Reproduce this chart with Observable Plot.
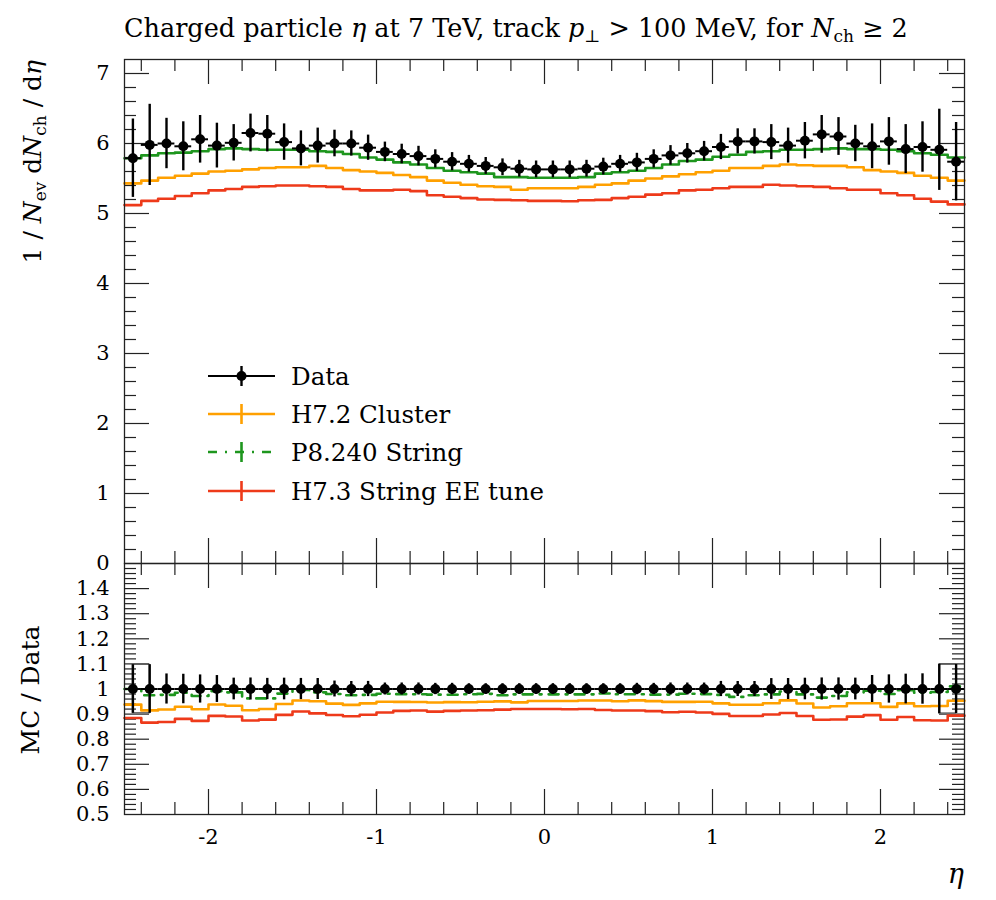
<!DOCTYPE html>
<html><head><meta charset="utf-8">
<script src="https://cdn.jsdelivr.net/npm/d3@7"></script>
<script src="https://cdn.jsdelivr.net/npm/@observablehq/plot@0.6"></script>
<style>
body{margin:0;background:#fff;}
#wrap{position:relative;width:996px;height:900px;}
#wrap svg{position:absolute;left:0;}
</style></head><body><div id="wrap"></div>
<script>
// ---- data ----
const binEdges = [-2.5,-2.4,-2.3,-2.2,-2.1,-2.0,-1.9,-1.8,-1.7,-1.6,-1.5,-1.4,-1.3,-1.2,-1.1,-1.0,-0.9,-0.8,-0.7,-0.6,-0.5,-0.4,-0.3,-0.2,-0.1,0.0,0.1,0.2,0.3,0.4,0.5,0.6,0.7,0.8,0.9,1.0,1.1,1.2,1.3,1.4,1.5,1.6,1.7,1.8,1.9,2.0,2.1,2.2,2.3,2.4,2.5];
const dataVals = [5.79,5.98,6.00,5.96,6.06,5.97,6.01,6.15,6.14,6.02,5.93,5.97,6.00,6.00,5.94,5.88,5.85,5.82,5.78,5.74,5.71,5.68,5.66,5.64,5.63,5.63,5.63,5.64,5.67,5.71,5.73,5.78,5.83,5.86,5.89,5.95,6.03,6.03,6.02,5.97,6.04,6.13,6.10,6.00,5.96,6.03,5.92,5.95,5.91,5.74];
const dataErrs = [0.56,0.58,0.36,0.35,0.34,0.32,0.26,0.27,0.26,0.26,0.25,0.25,0.19,0.18,0.18,0.14,0.14,0.14,0.13,0.13,0.12,0.12,0.12,0.12,0.12,0.12,0.12,0.12,0.12,0.12,0.13,0.13,0.14,0.14,0.14,0.18,0.18,0.18,0.25,0.25,0.26,0.27,0.27,0.26,0.32,0.34,0.35,0.36,0.58,0.56];
const h72Cluster = [5.43,5.47,5.51,5.54,5.57,5.60,5.61,5.63,5.65,5.66,5.66,5.68,5.65,5.62,5.60,5.58,5.55,5.52,5.47,5.44,5.41,5.39,5.38,5.34,5.36,5.36,5.36,5.38,5.41,5.43,5.47,5.50,5.53,5.56,5.59,5.61,5.65,5.65,5.68,5.70,5.69,5.68,5.68,5.66,5.62,5.60,5.58,5.54,5.51,5.47];
const p8String = [5.79,5.83,5.86,5.87,5.89,5.92,5.93,5.92,5.91,5.91,5.91,5.89,5.88,5.85,5.80,5.77,5.73,5.70,5.65,5.61,5.59,5.57,5.52,5.52,5.51,5.51,5.51,5.52,5.57,5.59,5.61,5.65,5.70,5.75,5.77,5.81,5.84,5.88,5.89,5.91,5.91,5.92,5.93,5.92,5.92,5.91,5.89,5.86,5.84,5.80];
const h73StringEE = [5.12,5.18,5.21,5.25,5.29,5.33,5.35,5.38,5.39,5.40,5.40,5.39,5.38,5.35,5.33,5.33,5.34,5.32,5.26,5.24,5.22,5.20,5.195,5.19,5.18,5.18,5.175,5.19,5.195,5.22,5.24,5.27,5.29,5.33,5.34,5.36,5.38,5.38,5.41,5.40,5.39,5.38,5.36,5.34,5.34,5.29,5.26,5.21,5.17,5.13];
const xMajorTicks = [-2,-1,0,1,2];
const xMinorTicks = [-2.4,-2.2,-1.8,-1.6,-1.4,-1.2,-0.8,-0.6,-0.4,-0.2,0.2,0.4,0.6,0.8,1.2,1.4,1.6,1.8,2.2,2.4];
const yMainTicks = [0,1,2,3,4,5,6,7];
const yRatioTicks = [0.5,0.6,0.7,0.8,0.9,1.0,1.1,1.2,1.3,1.4];
const seriesNames = ["Data","H7.2 Cluster","P8.240 String","H7.3 String EE tune"];
const seriesColors = ["#000000","#FFA000","#1E961E","#EE3A1A"];

// ---- derived tables ----
const bins = dataVals.map((v,i)=>({lo:binEdges[i],hi:binEdges[i+1],c:(binEdges[i]+binEdges[i+1])/2,v,e:dataErrs[i]}));
const step = (arr, norm) => arr.flatMap((v,i)=>{const y = norm ? v/dataVals[i] : v; return [{x:binEdges[i],y},{x:binEdges[i+1],y}];});
const yMainMinor = d3.range(1,36).filter(k=>k%5!==0).map(k=>k*0.2);
const yRatioMinor = d3.range(26,75).filter(k=>k%5!==0).map(k=>k*0.02);

const FONT = '"DejaVu Serif","Liberation Serif",serif';
const W = 996, ML = 124, MR = 32, FW = W-ML-MR;

function frameTicks(yMaj, yMin, FH){
  const s = {stroke:"#222", strokeWidth:1.2};
  const M = 25, m = 12;
  return [
    Plot.tickX(xMajorTicks,{x:d=>d,...s,insetBottom:FH-M}),
    Plot.tickX(xMajorTicks,{x:d=>d,...s,insetTop:FH-M}),
    Plot.tickX(xMinorTicks,{x:d=>d,...s,insetBottom:FH-m}),
    Plot.tickX(xMinorTicks,{x:d=>d,...s,insetTop:FH-m}),
    Plot.tickY(yMaj,{y:d=>d,...s,insetRight:FW-M}),
    Plot.tickY(yMaj,{y:d=>d,...s,insetLeft:FW-M}),
    Plot.tickY(yMin,{y:d=>d,...s,insetRight:FW-m}),
    Plot.tickY(yMin,{y:d=>d,...s,insetLeft:FW-m}),
  ];
}

// ---- main panel ----
const topFH = 504;
const topPlot = Plot.plot({
  width: W, height: 59+topFH+11,
  marginTop: 59, marginBottom: 11, marginLeft: ML, marginRight: MR,
  style: {background:"transparent", fontFamily: FONT, overflow:"visible"},
  x: {domain:[-2.5,2.5], axis:null},
  y: {domain:[0,7.2]},
  marks: [
    ...frameTicks(yMainTicks.filter(d=>d>0), yMainMinor, topFH),
    Plot.axisY(yMainTicks,{tickSize:0, tickPadding:15, fontSize:21, label:null, tickFormat:d=>String(d)}),
    Plot.line(step(h72Cluster),{x:"x",y:"y",stroke:seriesColors[1],strokeWidth:2.6}),
    Plot.line(step(h73StringEE),{x:"x",y:"y",stroke:seriesColors[3],strokeWidth:2.6}),
    Plot.line(step(p8String),{x:"x",y:"y",stroke:seriesColors[2],strokeWidth:2.6}),
    Plot.ruleY(bins,{y:"v",x1:"lo",x2:"hi",stroke:"#000",strokeWidth:2}),
    Plot.ruleX(bins,{x:"c",y1:d=>d.v-d.e,y2:d=>d.v+d.e,stroke:"#000",strokeWidth:2.4}),
    Plot.dot(bins,{x:"c",y:"v",r:5,fill:"#000",stroke:"none"}),
    Plot.frame({stroke:"#222",strokeWidth:1.3})
  ]
});
topPlot.style.top = "0px";

// ---- ratio panel ----
const ratFH = 251;
const endBoxes = [
  {x1:bins[0].c, x2:bins[1].c, y1:1-bins[0].e/bins[0].v, y2:1+bins[0].e/bins[0].v},
  {x1:bins[48].c, x2:bins[49].c, y1:1-bins[49].e/bins[49].v, y2:1+bins[49].e/bins[49].v}
];
const ratioPlot = Plot.plot({
  width: W, height: 10+ratFH+86,
  marginTop: 10, marginBottom: 86, marginLeft: ML, marginRight: MR,
  style: {background:"transparent", fontFamily: FONT, overflow:"visible"},
  x: {domain:[-2.5,2.5]},
  y: {domain:[0.5,1.5]},
  marks: [
    ...frameTicks(yRatioTicks.filter(d=>d>0.5), yRatioMinor, ratFH),
    Plot.axisY(yRatioTicks,{tickSize:0, tickPadding:15, fontSize:21, label:null, tickFormat:d=>d===1?"1":d.toFixed(1)}),
    Plot.axisX(xMajorTicks,{tickSize:0, tickPadding:15, fontSize:21, label:null, tickFormat:d=>String(d)}),
    Plot.rect(endBoxes,{x1:"x1",x2:"x2",y1:"y1",y2:"y2",fill:"none",stroke:"#555",strokeWidth:1.2}),
    Plot.line(step(h72Cluster,true),{x:"x",y:"y",stroke:seriesColors[1],strokeWidth:2.6}),
    Plot.line(step(h73StringEE,true),{x:"x",y:"y",stroke:seriesColors[3],strokeWidth:2.6}),
    Plot.line(step(p8String,true),{x:"x",y:"y",stroke:seriesColors[2],strokeWidth:2.6,strokeDasharray:"10,7,2,7"}),
    Plot.ruleY(bins,{y:()=>1,x1:"lo",x2:"hi",stroke:"#000",strokeWidth:2}),
    Plot.ruleX(bins,{x:"c",y1:d=>1-d.e/d.v,y2:d=>1+d.e/d.v,stroke:"#000",strokeWidth:2.4}),
    Plot.dot(bins,{x:"c",y:()=>1,r:5,fill:"#000",stroke:"none"}),
    Plot.frame({stroke:"#222",strokeWidth:1.3})
  ]
});
ratioPlot.style.top = "553px";

const wrap = document.getElementById("wrap");
wrap.appendChild(topPlot);
wrap.appendChild(ratioPlot);

// ---- titles, axis labels, legend ----
const ns = "http://www.w3.org/2000/svg";
const ov = document.createElementNS(ns,"svg");
ov.setAttribute("width",W); ov.setAttribute("height",900);
ov.style.top="0px"; ov.style.fontFamily = FONT; ov.style.pointerEvents="none";
const rows = [376, 414, 452, 491];
let legend = "";
seriesNames.forEach((name,i)=>{
  const y = rows[i], c = seriesColors[i];
  if (i===0){
    legend += `<line x1="208" x2="275" y1="${y}" y2="${y}" stroke="#000" stroke-width="2"/>`+
              `<line x1="241.5" x2="241.5" y1="${y-10}" y2="${y+10}" stroke="#000" stroke-width="2.4"/>`+
              `<circle cx="241.5" cy="${y}" r="5" fill="#000"/>`;
  } else {
    const dash = i===2 ? ` stroke-dasharray="9,8,2,8"` : "";
    legend += `<line x1="208" x2="275" y1="${y}" y2="${y}" stroke="${c}" stroke-width="2.6"${dash}/>`+
              `<line x1="241.5" x2="241.5" y1="${y-10}" y2="${y+10}" stroke="${c}" stroke-width="2.6"/>`;
  }
  legend += `<text x="291" y="${y+9}" font-size="24.5">${name}</text>`;
});
ov.innerHTML = `
<text x="124" y="37" font-size="25.5">Charged particle <tspan font-style="italic">η</tspan> at 7 TeV, track <tspan font-style="italic">p</tspan><tspan font-size="17" dy="5">⊥</tspan><tspan dy="-5"> &gt; 100 MeV, for </tspan><tspan font-style="italic">N</tspan><tspan font-size="17" dy="5">ch</tspan><tspan dy="-5"> ≥ 2</tspan></text>
<text transform="translate(41,60) rotate(-90)" text-anchor="end" font-size="25">1 / <tspan font-style="italic">N</tspan><tspan font-size="17" dy="5">ev</tspan><tspan dy="-5"> d</tspan><tspan font-style="italic">N</tspan><tspan font-size="17" dy="5">ch</tspan><tspan dy="-5"> / d</tspan><tspan font-style="italic">η</tspan></text>
<text transform="translate(39,690) rotate(-90)" text-anchor="middle" font-size="25">MC / Data</text>
<text x="964" y="883" text-anchor="end" font-size="27" font-style="italic">η</text>
${legend}`;
wrap.appendChild(ov);
</script></body></html>
